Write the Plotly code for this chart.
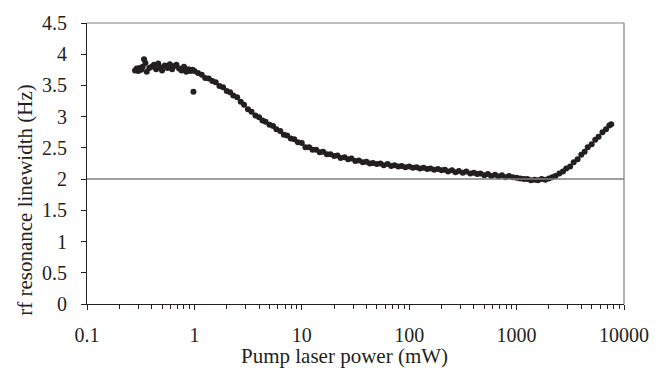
import plotly.graph_objects as go

# Pump laser power (mW)
power_mw = [
    0.28, 0.29, 0.30, 0.31, 0.32, 0.33, 0.34, 0.35, 0.36, 0.38, 0.40, 0.42, 0.44,
    0.46, 0.48, 0.50, 0.53, 0.56, 0.59, 0.62, 0.65, 0.68, 0.72, 0.76, 0.80, 0.84,
    0.88, 0.92, 0.96, 0.98,
    1.0, 1.08, 1.17, 1.26, 1.36, 1.47, 1.58, 1.71, 1.85, 2.0, 2.15, 2.3, 2.5, 2.7,
    2.9, 3.15, 3.4, 3.7, 4.0, 4.3, 4.6, 5.0, 5.4, 5.8, 6.3, 6.8, 7.3, 7.9, 8.5, 9.2,
    10, 10.8, 11.7, 12.6, 13.6, 14.7, 15.8, 17.1, 18.5, 20, 21.5, 23, 25, 27, 29,
    31.5, 34, 37, 40, 43, 46, 50, 54, 58, 63, 68, 73, 79, 85, 92,
    100, 108, 117, 126, 136, 147, 158, 171, 185, 200, 215, 230, 250, 270, 290,
    315, 340, 370, 400, 430, 460, 500, 540, 580, 630, 680, 730, 790, 850, 920,
    1000, 1080, 1170, 1260, 1360, 1470, 1580, 1710, 1850, 2000, 2150, 2300, 2500,
    2700, 2900, 3150, 3400, 3700, 4000, 4300, 4600, 5000, 5400, 5800, 6300, 6800,
    7300, 7600,
]

# rf resonance linewidth (Hz)
linewidth_hz = [
    3.74, 3.77, 3.73, 3.78, 3.75, 3.80, 3.92, 3.86, 3.72, 3.78, 3.80, 3.83, 3.76,
    3.85, 3.79, 3.74, 3.82, 3.78, 3.84, 3.76, 3.81, 3.83, 3.77, 3.74, 3.80, 3.72,
    3.76, 3.73, 3.75, 3.40,
    3.73, 3.70, 3.67, 3.62, 3.61, 3.57, 3.55, 3.49, 3.47, 3.41, 3.39, 3.34, 3.31,
    3.24, 3.19, 3.12, 3.08, 3.02, 2.99, 2.94, 2.92, 2.87, 2.85, 2.80, 2.77, 2.71,
    2.70, 2.65, 2.64, 2.59, 2.58, 2.51, 2.51, 2.47, 2.47, 2.43, 2.44, 2.40, 2.40,
    2.37, 2.38, 2.34, 2.35, 2.32, 2.33, 2.29, 2.30, 2.27, 2.28, 2.25, 2.26, 2.24,
    2.25, 2.22, 2.24, 2.21, 2.22, 2.20, 2.21, 2.19, 2.20, 2.18, 2.19, 2.17, 2.18,
    2.16, 2.17, 2.15, 2.16, 2.14, 2.15, 2.12, 2.14, 2.11, 2.13, 2.10, 2.12, 2.09,
    2.10, 2.08, 2.09, 2.06, 2.08, 2.05, 2.07, 2.04, 2.06, 2.03, 2.05, 2.03, 2.02,
    2.01, 2.00, 2.00, 1.98, 1.99, 1.98, 2.00, 1.99, 2.01, 2.03, 2.05, 2.09, 2.12,
    2.17, 2.20, 2.27, 2.32, 2.39, 2.44, 2.51, 2.56, 2.63, 2.68, 2.75, 2.80, 2.86,
    2.88,
]

x_tick_vals = [0.1, 1, 10, 100, 1000, 10000]
x_tick_text = ["0.1", "1", "10", "100", "1000", "10000"]
x_minor_vals = [m * d for d in [0.1, 1, 10, 100, 1000] for m in range(2, 10)]
y_tick_vals = [0, 0.5, 1, 1.5, 2, 2.5, 3, 3.5, 4, 4.5]
y_tick_text = ["0", "0.5", "1", "1.5", "2", "2.5", "3", "3.5", "4", "4.5"]
reference_level = 2.0
x_title = "Pump laser power (mW)"
y_title = "rf resonance linewidth (Hz)"

font_family = "Liberation Serif"
ink = "#231f20"

fig = go.Figure()
fig.add_trace(go.Scatter(
    x=power_mw, y=linewidth_hz, mode="markers",
    marker=dict(color=ink, size=6, line=dict(width=0)),
    showlegend=False,
))

# horizontal reference line at 2 Hz
fig.add_shape(type="line", xref="paper", x0=0, x1=1, yref="y",
              y0=reference_level, y1=reference_level,
              line=dict(color="#7f7f7f", width=1.5))
# frame: top and right
fig.add_shape(type="line", xref="paper", x0=0, x1=1, yref="paper", y0=1, y1=1,
              line=dict(color="#7f7f7f", width=1.2))
fig.add_shape(type="line", xref="paper", x0=1, x1=1, yref="paper", y0=0, y1=1,
              line=dict(color="#7f7f7f", width=1.2))

# axis titles
fig.add_annotation(text=x_title, xref="paper", yref="paper", x=0.48, y=-0.184,
                   xanchor="center", yanchor="middle", showarrow=False,
                   font=dict(family=font_family, size=21, color=ink))
fig.add_annotation(text=y_title, xref="paper", yref="paper", x=-0.117, y=0.368,
                   xanchor="center", yanchor="middle", textangle=-90,
                   showarrow=False,
                   font=dict(family=font_family, size=21, color=ink))

fig.update_layout(
    width=661, height=373,
    margin=dict(l=87, r=28, t=16, b=69),
    paper_bgcolor="white", plot_bgcolor="white",
    font=dict(family=font_family, size=20, color=ink),
    xaxis=dict(
        type="log", range=[-1, 4],
        tickmode="array", tickvals=x_tick_vals, ticktext=x_tick_text,
        ticks="outside", ticklen=5, tickcolor=ink, tickwidth=1,
        minor=dict(tickvals=x_minor_vals, ticks="outside", ticklen=4,
                   tickcolor=ink, tickwidth=1, showgrid=False),
        showline=True, linecolor=ink, linewidth=1.2,
        showgrid=False, zeroline=False,
        tickfont=dict(family=font_family, size=20, color=ink),
        ticklabelstandoff=8,
    ),
    yaxis=dict(
        range=[0, 4.5],
        tickmode="array", tickvals=y_tick_vals, ticktext=y_tick_text,
        ticks="outside", ticklen=5, tickcolor=ink, tickwidth=1,
        showline=True, linecolor=ink, linewidth=1.2,
        showgrid=False, zeroline=False,
        tickfont=dict(family=font_family, size=20, color=ink),
        ticklabelstandoff=10,
    ),
)

fig.write_html("out.html")
